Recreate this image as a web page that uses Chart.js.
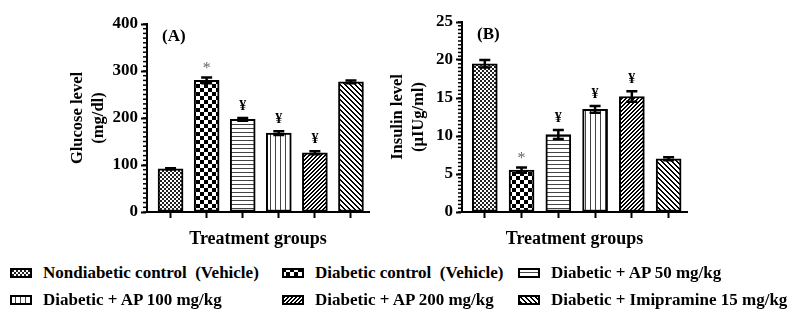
<!DOCTYPE html>
<html>
<head>
<meta charset="utf-8">
<script src="https://cdn.jsdelivr.net/npm/chart.js@4"></script>
<style>
  body { margin: 0; background: #fff; width: 800px; height: 313px; overflow: hidden; position: relative; }
  #chartA { position: absolute; left: 0; top: 0; }
  #chartB { position: absolute; left: 380px; top: 0; }
  #legend {
    position: absolute; left: 10px; top: 259px;
    display: grid; grid-template-columns: 272px 236px auto; grid-auto-rows: 27px;
    font-family: "Liberation Serif", serif; font-weight: bold; font-size: 17px; color: #000;
  }
  .item { display: flex; align-items: center; white-space: pre; }
  .item canvas { margin-right: 11px; }
</style>
</head>
<body>
<canvas id="chartA" width="390" height="250"></canvas>
<canvas id="chartB" width="420" height="250"></canvas>
<div id="legend"></div>

<script>
const groups = [
    "Nondiabetic control  (Vehicle)",
    "Diabetic control  (Vehicle)",
    "Diabetic + AP 50 mg/kg",
    "Diabetic + AP 100 mg/kg",
    "Diabetic + AP 200 mg/kg",
    "Diabetic + Imipramine 15 mg/kg"
];
// legend order (3 columns, row by row)
const legendOrder = [0, 1, 2, 3, 4, 5];

const glucose = [92, 280, 197, 168, 126, 277];
const glucoseErr = [1, 6, 3, 4, 3, 3];
const glucoseMarks = ["", "*", "¥", "¥", "¥", ""];

const insulin = [19.5, 5.5, 10.2, 13.5, 15.2, 7.0];
const insulinErr = [0.5, 0.35, 0.6, 0.45, 0.7, 0.2];
const insulinMarks = ["", "*", "¥", "¥", "¥", ""];

const serif = "'Liberation Serif', 'Times New Roman', serif";

// fill patterns, one per group
function makePattern(kind) {
    const size = { fine: 4, check: 8, hline: 4, vline: 5, fwd: 4, back: 5 }[kind];
    const c = document.createElement("canvas");
    c.width = size;
    c.height = size;
    const x = c.getContext("2d");
    x.fillStyle = "#fff";
    x.fillRect(0, 0, size, size);
    x.fillStyle = "#000";
    if (kind === "fine") {
        x.fillStyle = "#222";
        x.fillRect(0, 0, 2, 2);
        x.fillRect(2, 2, 2, 2);
    } else if (kind === "check") {
        x.fillRect(0, 0, 4, 4);
        x.fillRect(4, 4, 4, 4);
    } else if (kind === "hline") {
        x.fillStyle = "#444";
        x.fillRect(0, 0, size, 1);
    } else if (kind === "vline") {
        x.fillStyle = "#444";
        x.fillRect(0, 0, 1, size);
    } else if (kind === "fwd") {
        for (let i = 0; i < size; i++) {
            x.fillRect(i, size - 1 - i, 1, 1);
            x.fillRect((i + 1) % size, size - 1 - i, 1, 1);
        }
    } else if (kind === "back") {
        for (let i = 0; i < size; i++) {
            x.fillRect(i, i, 1, 1);
            x.fillRect((i + 1) % size, i, 1, 1);
        }
    }
    return x.createPattern(c, "repeat");
}

const patternKinds = ["fine", "check", "hline", "vline", "fwd", "back"];
const patterns = patternKinds.map(makePattern);

const minorTicks = {
    id: "minorTicks",
    afterDraw(chart) {
        const ds = chart.data.datasets[0];
        const y = chart.scales.y;
        const ctx = chart.ctx;
        const n = Math.round((y.max - y.min) / ds.minorStep);
        ctx.save();
        ctx.strokeStyle = "#000";
        ctx.lineWidth = 1.5;
        for (let k = 0; k <= n; k++) {
            const py = y.getPixelForValue(y.min + k * ds.minorStep);
            ctx.beginPath();
            ctx.moveTo(y.right - 4, py);
            ctx.lineTo(y.right, py);
            ctx.stroke();
        }
        ctx.restore();
    }
};

const errorBars = {
    id: "errorBars",
    afterDatasetsDraw(chart) {
        const ds = chart.data.datasets[0];
        const meta = chart.getDatasetMeta(0);
        const y = chart.scales.y;
        const ctx = chart.ctx;
        ctx.save();
        meta.data.forEach((bar, i) => {
            const v = ds.data[i].y;
            const e = ds.errors[i];
            const top = y.getPixelForValue(v + e);
            const bot = y.getPixelForValue(v - e);
            ctx.strokeStyle = "#000";
            ctx.lineWidth = 2.5;
            ctx.beginPath();
            ctx.moveTo(bar.x, top);
            ctx.lineTo(bar.x, bot);
            ctx.moveTo(bar.x - 5.5, top);
            ctx.lineTo(bar.x + 5.5, top);
            ctx.moveTo(bar.x - 5.5, bot);
            ctx.lineTo(bar.x + 5.5, bot);
            ctx.stroke();
            const m = ds.marks[i];
            if (m) {
                ctx.textAlign = "center";
                ctx.textBaseline = "alphabetic";
                if (m === "*") {
                    ctx.fillStyle = "#666";
                    ctx.font = "16px " + serif;
                    ctx.fillText(m, bar.x, top - 5);
                } else {
                    ctx.fillStyle = "#000";
                    ctx.font = "bold 14px " + serif;
                    ctx.fillText(m, bar.x, top - 8);
                }
            }
        });
        ctx.restore();
    }
};

const panelLabel = {
    id: "panelLabel",
    afterDraw(chart) {
        const ctx = chart.ctx;
        const a = chart.chartArea;
        ctx.save();
        ctx.fillStyle = "#000";
        ctx.font = "bold 17px " + serif;
        ctx.textBaseline = "middle";
        ctx.fillText(chart.data.datasets[0].panel, a.left + 15, a.top + 13);
        ctx.restore();
    }
};

function makeChart(id, values, errors, marks, o) {
    return new Chart(document.getElementById(id), {
        type: "bar",
        data: {
            datasets: [{
                label: o.title.join(" "),
                data: values.map((v, i) => ({ x: i, y: v })),
                errors: errors,
                marks: marks,
                minorStep: o.minorStep,
                panel: o.panel,
                backgroundColor: patterns,
                borderColor: "#000",
                borderWidth: 2,
                borderSkipped: false,
                barThickness: 25
            }]
        },
        options: {
            responsive: false,
            animation: false,
            layout: { padding: { left: 0, top: o.top, right: o.right, bottom: 0 } },
            plugins: { legend: { display: false }, tooltip: { enabled: false } },
            scales: {
                x: {
                    type: "linear",
                    offset: false,
                    min: o.xMin,
                    max: 5.5,
                    ticks: { stepSize: 1, display: false, includeBounds: false },
                    grid: { offset: false, drawOnChartArea: false, tickLength: 6, tickWidth: 2, tickColor: "#000" },
                    border: { width: 2, color: "#000" },
                    title: {
                        display: true,
                        text: "Treatment groups",
                        color: "#000",
                        font: { family: serif, size: 18, weight: "bold" },
                        padding: { top: 4, bottom: 0 }
                    },
                    afterFit: (s) => { s.height = 38; }
                },
                y: {
                    min: 0,
                    max: o.yMax,
                    ticks: {
                        stepSize: o.yStep,
                        color: "#000",
                        padding: 3,
                        font: { family: serif, size: 17, weight: "bold" }
                    },
                    grid: { drawOnChartArea: false, tickLength: 6, tickWidth: 2, tickColor: "#000" },
                    border: { width: 2, color: "#000" },
                    title: {
                        display: true,
                        text: o.title,
                        color: "#000",
                        font: { family: serif, size: 16.5, weight: "bold", lineHeight: 1.3 },
                        padding: { top: o.titlePad, bottom: 0 }
                    },
                    afterFit: (s) => { s.width = o.yWidth; }
                }
            }
        },
        plugins: [errorBars, minorTicks, panelLabel]
    });
}

makeChart("chartA", glucose, glucoseErr, glucoseMarks, {
    title: ["Glucose level", "(mg/dl)"],
    panel: "(A)",
    yMax: 400, yStep: 100, minorStep: 10,
    top: 24, right: 21, yWidth: 147, titlePad: 67, xMin: -0.653
});

makeChart("chartB", insulin, insulinErr, insulinMarks, {
    title: ["Insulin level", "(\u03bcIUg/ml)"],
    panel: "(B)",
    yMax: 25, yStep: 5, minorStep: 0.5,
    top: 22, right: 113, yWidth: 82, titlePad: 7, xMin: -0.62
});

// legend
const legend = document.getElementById("legend");
legendOrder.forEach((i) => {
    const item = document.createElement("div");
    item.className = "item";
    const sw = document.createElement("canvas");
    sw.width = 22;
    sw.height = 10;
    const c = sw.getContext("2d");
    c.fillStyle = makePattern(patternKinds[i]);
    c.fillRect(0, 0, 22, 10);
    c.strokeStyle = "#000";
    c.lineWidth = 2;
    c.strokeRect(1, 1, 20, 8);
    item.appendChild(sw);
    item.appendChild(document.createTextNode(groups[i]));
    legend.appendChild(item);
});
</script>
</body>
</html>
